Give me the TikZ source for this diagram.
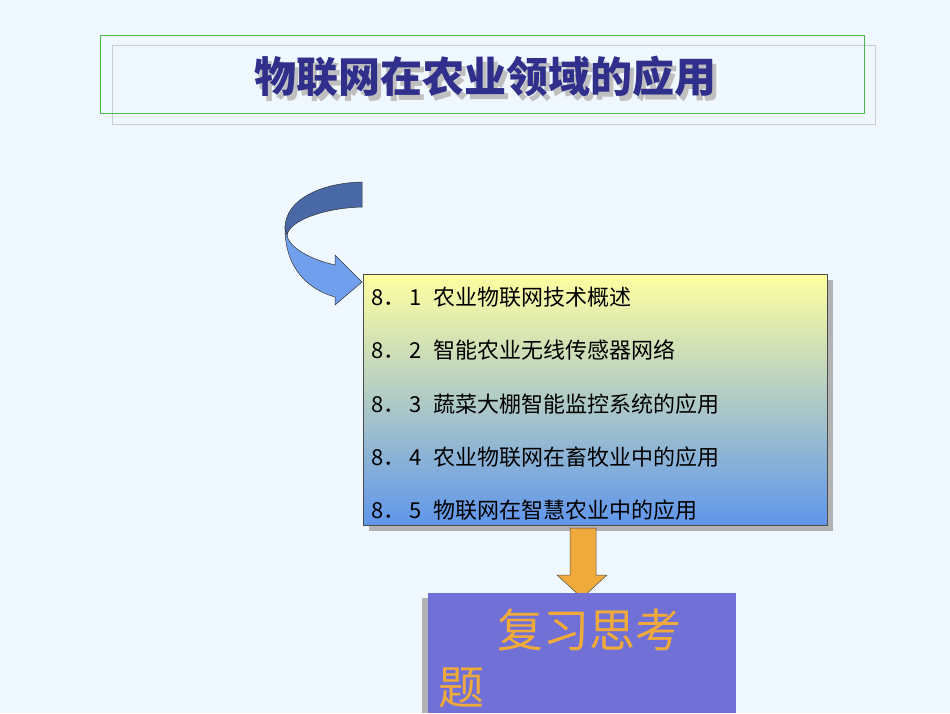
\documentclass[tikz,border=0pt]{standalone}
\usepackage{fontspec}
\newfontfamily\cjk{Noto Sans CJK SC}
\usetikzlibrary{shadows}
\definecolor{bg}{RGB}{240,248,255}
\definecolor{ttl}{RGB}{48,48,140}
\definecolor{topc}{RGB}{255,255,160}
\definecolor{botc}{RGB}{96,150,235}
\definecolor{purp}{RGB}{112,112,215}
\definecolor{orng}{RGB}{240,170,60}
\definecolor{darr}{RGB}{72,105,165}
\tikzset{itm/.style={anchor=west,font=\cjk\fontsize{22}{26}\selectfont,inner sep=0}}
\begin{document}
\begin{tikzpicture}[x=1pt,y=-1pt]
\fill[bg] (0,0) rectangle (950,713);
\useasboundingbox (0,0) rectangle (950,713);
% title frames
\draw[gray!40,line width=1pt] (112,45) rectangle (875,124);
\draw[green!60!black!70,line width=0.8pt] (100,35) rectangle (864,113);
\node[font=\cjk\bfseries\fontsize{42}{46}\selectfont,text=gray!50] at (489,82) {物联网在农业领域的应用};
\node[font=\cjk\bfseries\fontsize{42}{46}\selectfont,text=ttl] (title) at (485,77) {物联网在农业领域的应用};
% curved arrow
\fill[botc!90!white,draw=black!80,line width=0.5pt] (285,228) .. controls (285,270) and (310,290) .. (335,297) -- (335,305) -- (362,282) -- (335,255) -- (335,265) .. controls (305,258) and (288,245) .. (287,235) -- cycle;
\fill[darr,draw=black!80,line width=0.5pt] (362,182) .. controls (320,183) and (285,200) .. (285,228) -- (287,235) .. controls (290,220) and (325,208) .. (362,207) -- cycle;
% list box
\fill[gray!60] (369,280) rectangle (833,531);
\shade[top color=topc,bottom color=botc,draw=gray!60!black,line width=0.6pt] (363,274) rectangle (827,525);
\node[itm] (i1) at (371,297) {8．\,1\,\, 农业物联网技术概述};
\node[itm] (i2) at (371,350) {8．\,2\,\, 智能农业无线传感器网络};
\node[itm] (i3) at (371,404) {8．\,3\,\, 蔬菜大棚智能监控系统的应用};
\node[itm] (i4) at (371,457) {8．\,4\,\, 农业物联网在畜牧业中的应用};
\node[itm] (i5) at (371,510) {8．\,5\,\, 物联网在智慧农业中的应用};
% down arrow
\fill[orng,draw=black!70,line width=0.5pt] (570,528) -- (596,528) -- (596,575) -- (607,575) -- (582,598) -- (557,575) -- (570,575) -- cycle;
% bottom box
\fill[gray!60] (422,598) rectangle (430,713);
\fill[purp] (428,593) rectangle (736,713);
\node[anchor=west,font=\cjk\fontsize{46}{50}\selectfont,text=orng,inner sep=0] (r1) at (497,630) {复习思考};
\node[anchor=west,font=\cjk\fontsize{46}{50}\selectfont,text=orng,inner sep=0] (r2) at (438,688) {题};
\end{tikzpicture}
\end{document}
